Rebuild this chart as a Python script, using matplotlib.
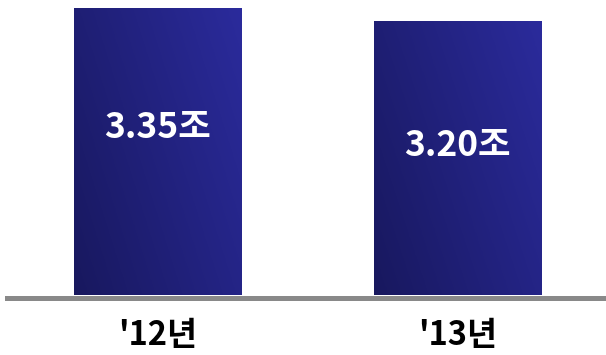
import numpy as np
import matplotlib.pyplot as plt
from matplotlib.colors import LinearSegmentedColormap

plt.rcParams['font.family'] = ['Noto Sans CJK KR', 'DejaVu Sans']

years = ["'12년", "'13년"]
values = [3.35, 3.20]
value_labels = ['3.35조', '3.20조']

# label height as a share of each bar
label_pos = [0.585, 0.547]

W, H = 606, 355
fig = plt.figure(figsize=(W / 100, H / 100), dpi=100)
ax = fig.add_axes([0, 0, 1, 1])

# pixel layout -> data scale
base_px = 295
ppu_y = (base_px - 8) / values[0]
ppu_x = 299.5
x0_px = 158

x = np.arange(len(values))
bars = ax.bar(x, values, width=168 / ppu_x, color='none', edgecolor='none', zorder=2)

cmap = LinearSegmentedColormap.from_list('navy', ['#18185e', '#2b2b9c'])
gx, gy = np.meshgrid(np.linspace(0, 1, 200), np.linspace(0, 1, 200))
grad = 0.65 * gx + 0.35 * gy

for b in bars:
    bx, bw, bh = b.get_x(), b.get_width(), b.get_height()
    im = ax.imshow(grad, extent=[bx, bx + bw, 0, bh], origin='lower',
                   cmap=cmap, vmin=0, vmax=1, aspect='auto', zorder=2,
                   interpolation='bilinear')
    im.set_clip_path(b)

for xi, v, lab, p in zip(x, values, value_labels, label_pos):
    ax.text(xi, v * p, lab, ha='center', va='center', color='white',
            fontsize=25.5, fontweight='bold', zorder=3)

for xi, lab in zip(x, years):
    ax.text(xi, -(336 - base_px) / ppu_y, lab, ha='center', va='center',
            color='black', fontsize=23.5, fontweight='bold')

# grey baseline
ax.axhline(-2.5 / ppu_y, xmin=7 / W, xmax=1, color='#898989',
           linewidth=5 * 0.72, zorder=3)

ax.set_xlim(-x0_px / ppu_x, (W - x0_px) / ppu_x)
ax.set_ylim(-(H - base_px) / ppu_y, base_px / ppu_y)
ax.axis('off')

fig.savefig('out.png', dpi=100)
